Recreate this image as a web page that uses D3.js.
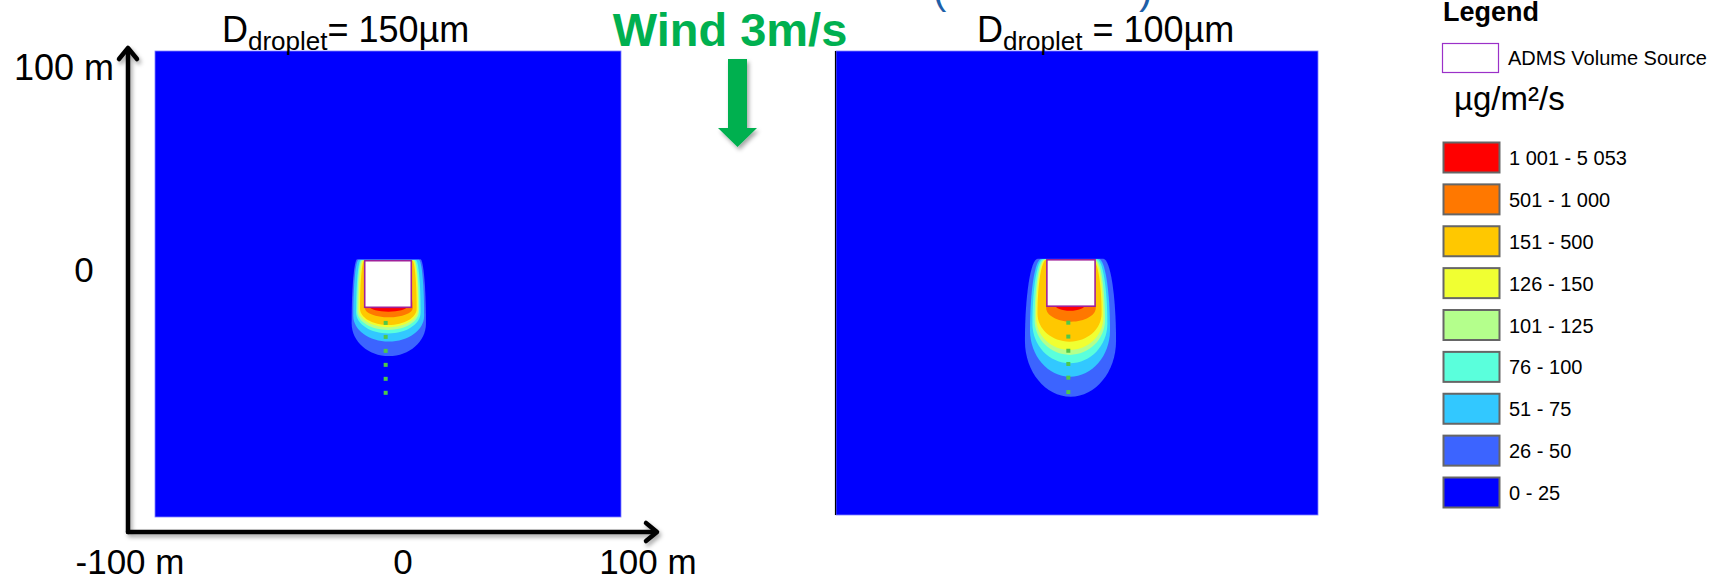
<!doctype html>
<html lang="en">
<head>
  <meta charset="utf-8">
  <title>Deposition footprint</title>
  <style>
    body { margin: 0; background: #fff; }
    text { font-family: "Liberation Sans", Arial, Helvetica, sans-serif; }
  </style>
</head>
<body>
<svg id="chart" width="1712" height="582"></svg>

<script src="https://d3js.org/d3.v7.min.js"></script>
<script>
// legend classes, top to bottom (µg/m²/s)
var legendLabels = ["1 001 - 5 053", "501 - 1 000", "151 - 500", "126 - 150", "101 - 125", "76 - 100", "51 - 75", "26 - 50", "0 - 25"];
var legendColors = ["#ff0000", "#ff7800", "#ffc800", "#f0ff32", "#b4ff8c", "#5affdc", "#32c8ff", "#3c64ff", "#0000ff"];

// contour bands drawn from outside in (metres, source at the origin)
var bandNames = ["26 - 50", "51 - 75", "76 - 100", "101 - 125", "126 - 150", "151 - 500", "501 - 1 000", "1 001 - 5 053"];

// D = 150 µm
var d150Left   = [-15.6, -14.9, -13.7, -13.2, -12.6, -12.0, -9.9, -7.7];
var d150Right  = [ 16.3,  15.5,  14.0,  13.3,  12.9,  12.3, 10.6,  8.0];
var d150Top    = [ 10.6,  10.4,  10.3,  10.2,  10.1,  10.0, -4.0, -6.0];
var d150Bottom = [-30.9, -24.7, -21.2, -19.7, -18.6, -17.6, -14.3, -11.9];
var d150Ry     = [ 14.0,  11.0,   9.0,   8.0,   7.5,   7.0,  4.0,  2.0];
var d150DotsY  = [-16.7, -22.7, -28.7, -34.7, -40.7, -46.7];

// D = 100 µm
var d100Left   = [-19.1, -17.0, -16.0, -15.1, -14.5, -13.9, -10.3, -6.6];
var d100Right  = [ 18.7,  16.2,  15.1,  14.1,  13.4,  12.7, 10.3,  5.8];
var d100Top    = [ 10.4,  10.3,  10.2,  10.1,  10.0,  10.0, -4.0, -6.0];
var d100Bottom = [-49.0, -40.4, -34.6, -31.0, -28.9, -25.3, -16.7, -12.0];
var d100Ry     = [ 24.0,  20.0,  17.0,  15.0,  14.0,  12.0,  6.0,  2.5];
var d100DotsY  = [-17.1, -23.1, -29.2, -34.9, -40.8, -47.0];

var sourceX = [-10, 10];
var sourceY = [-10, 10];

var svg = d3.select("#chart");

var defs = svg.append("defs");
var sh = defs.append("filter").attr("id", "shadow")
    .attr("x", "-20%").attr("y", "-20%").attr("width", "140%").attr("height", "140%");
sh.append("feDropShadow").attr("dx", 2).attr("dy", 3).attr("stdDeviation", 2)
    .attr("flood-color", "#000").attr("flood-opacity", 0.35);

function bandColor(name) {
    return legendColors[legendLabels.indexOf(name)];
}

function makeBands(xl, xr, top, bottom, ry) {
    return bandNames.map(function(n, i) {
        return {name: n, xL: xl[i], xR: xr[i], top: top[i], bottom: bottom[i], ry: ry[i]};
    });
}

// egg-like outline: quarter ellipses from the source edge out to the widest
// point, then an elliptic tail down to the bottom of the band
function plumePath(b, sx, sy, taper) {
    var cx = (b.xL + b.xR) / 2, hw = (b.xR - b.xL) / 2;
    var yw = b.bottom + b.ry;
    var k = 0.5523;
    var ins = hw * taper;
    var h = b.top - yw;
    var P = function(x, y) { return [sx(x), sy(y)]; };
    var p = d3.path();
    p.moveTo.apply(p, P(b.xL + ins, b.top));
    p.lineTo.apply(p, P(b.xR - ins, b.top));
    p.bezierCurveTo.apply(p, P(b.xR - ins + k * ins, b.top).concat(P(b.xR, yw + k * h), P(b.xR, yw)));
    p.bezierCurveTo.apply(p, P(b.xR, yw - k * b.ry).concat(P(cx + k * hw, b.bottom), P(cx, b.bottom)));
    p.bezierCurveTo.apply(p, P(cx - k * hw, b.bottom).concat(P(b.xL, yw - k * b.ry), P(b.xL, yw)));
    p.bezierCurveTo.apply(p, P(b.xL, yw + k * h).concat(P(b.xL + ins - k * ins, b.top), P(b.xL + ins, b.top)));
    p.closePath();
    return p.toString();
}

function drawPanel(opt) {
    var sx = d3.scaleLinear().domain(opt.xDomain).range([opt.x0, opt.x1]);
    var sy = d3.scaleLinear().domain([-100, 100]).range([opt.y1, opt.y0]);
    var g = svg.append("g");

    g.append("rect")
        .attr("x", sx(opt.xDomain[0])).attr("y", sy(100))
        .attr("width", sx(opt.xDomain[1]) - sx(opt.xDomain[0]))
        .attr("height", sy(-100) - sy(100))
        .attr("fill", legendColors[legendColors.length - 1])
        .attr("stroke", "#8080ff").attr("stroke-width", 0.8);

    g.selectAll("path.band")
        .data(opt.bands)
        .join("path")
        .attr("class", "band")
        .attr("d", function(b) { return plumePath(b, sx, sy, opt.taper); })
        .attr("fill", function(b) { return bandColor(b.name); });

    g.selectAll("rect.dot")
        .data(opt.dotsY)
        .join("rect")
        .attr("class", "dot")
        .attr("x", sx(opt.dotX) - 2).attr("y", function(d) { return sy(d) - 2; })
        .attr("width", 4).attr("height", 4)
        .attr("fill", "#4ec84a");

    g.append("rect")
        .attr("x", sx(sourceX[0])).attr("y", sy(sourceY[1]))
        .attr("width", sx(sourceX[1]) - sx(sourceX[0]))
        .attr("height", sy(sourceY[0]) - sy(sourceY[1]))
        .attr("fill", "#fff").attr("stroke", "#a0209a").attr("stroke-width", 1.6);

    if (opt.leftLine) {
        g.append("line")
            .attr("x1", sx(opt.xDomain[0]) - 0.5).attr("x2", sx(opt.xDomain[0]) - 0.5)
            .attr("y1", sy(100)).attr("y2", sy(-100))
            .attr("stroke", "#000").attr("stroke-width", 1.2);
    }

    // title: D_droplet = ...
    var t = svg.append("text")
        .attr("x", opt.titleX).attr("y", 42)
        .attr("font-size", 36).attr("fill", "#000");
    t.append("tspan").text("D");
    t.append("tspan").attr("font-size", 26).attr("dy", 8).text("droplet");
    t.append("tspan").attr("dy", -8).text(opt.titleRest);
}

drawPanel({
    xDomain: [-100, 100], x0: 155, x1: 621, y0: 51, y1: 517,
    bands: makeBands(d150Left, d150Right, d150Top, d150Bottom, d150Ry),
    dotsY: d150DotsY, dotX: -1, taper: 0.15,
    titleX: 222, titleRest: "= 150µm"
});

drawPanel({
    xDomain: [-97.5, 102.5], x0: 836, x1: 1318, y0: 51, y1: 515,
    bands: makeBands(d100Left, d100Right, d100Top, d100Bottom, d100Ry),
    dotsY: d100DotsY, dotX: -1.1, taper: 0.28, leftLine: true,
    titleX: 977, titleRest: " = 100µm"
});

// annotation axes with arrow heads
var ax = svg.append("g").attr("filter", "url(#shadow)")
    .attr("fill", "none").attr("stroke", "#000")
    .attr("stroke-width", 4.5).attr("stroke-linecap", "round").attr("stroke-linejoin", "round");
ax.append("path").attr("d", "M128,532 L128,49");
ax.append("path").attr("d", "M119,59 L128,48 L137,59");
ax.append("path").attr("d", "M128,532 L656,532");
ax.append("path").attr("d", "M646,523 L657,532 L646,541");

var labelX = d3.scaleLinear().domain([-100, 0, 100]).range([130, 403, 648]);
svg.selectAll("text.xlab")
    .data([-100, 0, 100])
    .join("text")
    .attr("class", "xlab")
    .attr("x", function(d) { return labelX(d); })
    .attr("y", 574)
    .attr("text-anchor", "middle")
    .attr("font-size", 35)
    .text(function(d) { return d === 0 ? "0" : d + " m"; });

svg.append("text").attr("x", 114).attr("y", 80).attr("text-anchor", "end")
    .attr("font-size", 36).text("100 m");
svg.append("text").attr("x", 84).attr("y", 282).attr("text-anchor", "middle")
    .attr("font-size", 35).text("0");

// wind annotation
svg.append("text").attr("x", 730).attr("y", 46).attr("text-anchor", "middle")
    .attr("font-size", 47).attr("font-weight", "bold").attr("fill", "#00b050")
    .text("Wind 3m/s");
svg.append("path").attr("filter", "url(#shadow)")
    .attr("d", "M728,59 L747,59 L747,128 L757,128 L737.5,147 L718,128 L728,128 Z")
    .attr("fill", "#00b050");

// fragments of a cropped heading
svg.append("text").attr("x", 933).attr("y", 4).attr("font-size", 40).attr("fill", "#1f5fa8").text("(");
svg.append("text").attr("x", 1139).attr("y", 4).attr("font-size", 40).attr("fill", "#1f5fa8").text(")");

// legend
svg.append("text").attr("x", 1443).attr("y", 21).attr("font-size", 27)
    .attr("font-weight", "bold").text("Legend");
svg.append("rect").attr("x", 1442.5).attr("y", 43.5).attr("width", 56).attr("height", 29)
    .attr("fill", "#fff").attr("stroke", "#9b30c8").attr("stroke-width", 1.2);
svg.append("text").attr("x", 1508).attr("y", 65).attr("font-size", 20).text("ADMS Volume Source");
svg.append("text").attr("x", 1454).attr("y", 110).attr("font-size", 33).text("µg/m²/s");

var legY = d3.scalePoint().domain(legendLabels).range([142, 477]);
var leg = svg.selectAll("g.leg")
    .data(legendLabels)
    .join("g")
    .attr("class", "leg")
    .attr("transform", function(d) { return "translate(1443," + legY(d) + ")"; });
leg.append("rect")
    .attr("x", 0.5).attr("y", 0.5).attr("width", 56).attr("height", 30)
    .attr("fill", function(d, i) { return legendColors[i]; })
    .attr("stroke", "#666").attr("stroke-width", 2);
leg.append("text")
    .attr("x", 66).attr("y", 23)
    .attr("font-size", 20)
    .text(function(d) { return d; });
</script>
</body>
</html>
